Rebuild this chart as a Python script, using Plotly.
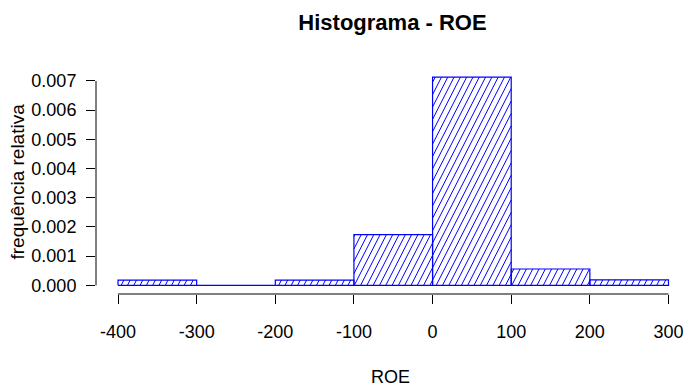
import math
import plotly.graph_objects as go

# Histogram of ROE: bin edges and relative-frequency (density) heights
bin_edges = [-400, -300, -200, -100, 0, 100, 200, 300]
density = [0.00018, 0.0, 0.00018, 0.00174, 0.00713, 0.00056, 0.00019]
x_ticks = [-400, -300, -200, -100, 0, 100, 200, 300]
x_tick_text = [str(v) for v in x_ticks]          # plain hyphen minus
y_ticks = [0.000, 0.001, 0.002, 0.003, 0.004, 0.005, 0.006, 0.007]
y_tick_text = [f"{v:.3f}" for v in y_ticks]

W, H = 685, 388
M_L, M_R, M_T, M_B = 96, 0, 69, 94
X_RANGE = [-428, 321]
Y_RANGE = [-0.000297, 0.00741]
BLUE = "#0000FF"
FONT = "Arial, Liberation Sans, sans-serif"

plot_w = W - M_L - M_R
plot_h = H - M_T - M_B
kx = plot_w / (X_RANGE[1] - X_RANGE[0])   # px per x unit
ky = plot_h / (Y_RANGE[1] - Y_RANGE[0])   # px per y unit

# Bar outlines (closed rectangles, zero-height bins show as a flat line)
ox, oy = [], []
for i, h in enumerate(density):
    a, b = bin_edges[i], bin_edges[i + 1]
    ox += [a, a, b, b, a, None]
    oy += [0, h, h, 0, 0, None]

# Shading lines at a fixed screen angle, clipped to each bar
angle = math.radians(63)
spacing = 6.3            # horizontal gap between shading lines, px
cot = 1 / math.tan(angle)
hx, hy = [], []
for i, h in enumerate(density):
    if h <= 0:
        continue
    a, b = bin_edges[i], bin_edges[i + 1]
    w_px = (b - a) * kx
    h_px = h * ky
    x0_px = (a - X_RANGE[0]) * kx
    # align the line family to the whole plot so it is continuous across bars
    c = math.floor((x0_px - h_px * cot) / spacing) * spacing - x0_px
    while c <= w_px:
        v_lo = max(0.0, (0 - c) / cot)
        v_hi = min(h_px, (w_px - c) / cot)
        if v_hi > v_lo:
            u1, u2 = c + v_lo * cot, c + v_hi * cot
            hx += [a + u1 / kx, a + u2 / kx, None]
            hy += [v_lo / ky, v_hi / ky, None]
        c += spacing

fig = go.Figure()
fig.add_trace(go.Scatter(x=hx, y=hy, mode="lines",
                         line=dict(color=BLUE, width=1), hoverinfo="skip",
                         showlegend=False))
fig.add_trace(go.Scatter(x=ox, y=oy, mode="lines",
                         line=dict(color=BLUE, width=1.2), hoverinfo="skip",
                         showlegend=False))

# Axis lines spanning only the tick range
fig.add_shape(type="line", xref="x", yref="paper",
              x0=x_ticks[0], x1=x_ticks[-1], y0=0, y1=0,
              line=dict(color="black", width=1))
fig.add_shape(type="line", xref="paper", yref="y",
              x0=0, x1=0, y0=y_ticks[0], y1=y_ticks[-1],
              line=dict(color="black", width=1))

fig.update_layout(
    width=W, height=H,
    margin=dict(l=M_L, r=M_R, t=M_T, b=M_B, pad=0),
    paper_bgcolor="white", plot_bgcolor="white",
    font=dict(family=FONT, size=18, color="black"),
    title=dict(text="<b>Histograma - ROE</b>", x=392.5 / W, xanchor="center",
               y=1 - 22 / H, yanchor="middle",
               font=dict(family=FONT, size=22, color="black")),
    xaxis=dict(range=X_RANGE, tickvals=x_ticks, ticktext=x_tick_text,
               ticks="outside", ticklen=9,
               tickcolor="black", showline=False, showgrid=False,
               zeroline=False, ticklabelstandoff=12,
               tickfont=dict(size=18)),
    yaxis=dict(range=Y_RANGE, tickvals=y_ticks, ticktext=y_tick_text,
               ticks="outside", ticklen=9, tickcolor="black", showline=False,
               showgrid=False, zeroline=False, ticklabelstandoff=6,
               tickfont=dict(size=18)),
    annotations=[
        dict(text="ROE", xref="paper", yref="paper",
             x=0.5, y=-(377 - (H - M_B)) / plot_h,
             xanchor="center", yanchor="middle", showarrow=False,
             font=dict(size=18)),
        dict(text="frequência relativa", xref="paper", yref="paper",
             x=(17 - M_L) / plot_w, y=0.5, textangle=-90,
             xanchor="center", yanchor="middle", showarrow=False,
             font=dict(size=19)),
    ],
)

fig.write_html("out.html")
